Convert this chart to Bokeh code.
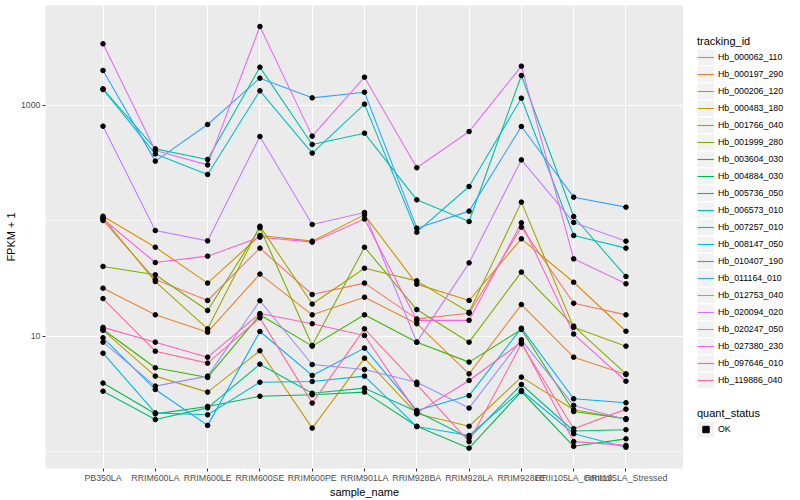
import math
from bokeh.plotting import figure
from bokeh.layouts import row
from bokeh.models import (Range1d, FactorRange, FixedTicker, PrintfTickFormatter,
                          Legend, LegendItem, ColumnDataSource)
from bokeh.embed import file_html
from bokeh.resources import INLINE

samples = ["PB350LA", "RRIM600LA", "RRIM600LE", "RRIM600SE", "RRIM600PE", "RRIM901LA",
           "RRIM928BA", "RRIM928LA", "RRIM928LE", "RRII105LA_Control", "RRII105LA_Stressed"]

tracking_ids = ["Hb_000062_110", "Hb_000197_290", "Hb_000206_120", "Hb_000483_180",
                "Hb_001766_040", "Hb_001999_280", "Hb_003604_030", "Hb_004884_030",
                "Hb_005736_050", "Hb_006573_010", "Hb_007257_010", "Hb_008147_050",
                "Hb_010407_190", "Hb_011164_010", "Hb_012753_040", "Hb_020094_020",
                "Hb_020247_050", "Hb_027380_230", "Hb_097646_010", "Hb_119886_040"]

hb_000062_110 = [101, 31.1, 20.5, 58.2, 23.1, 29.0, 14.2, 15.9, 88.4, 19.4, 15.4]
hb_000197_290 = [26.2, 15.4, 10.9, 34.7, 15.4, 21.9, 12.9, 4.75, 18.9, 6.62, 4.69]
hb_000206_120 = [110, 59.3, 29.0, 74.9, 66.9, 113, 28.4, 20.5, 70.1, 29.5, 11.1]
hb_000483_180 = [11.3, 4.54, 3.30, 7.52, 1.61, 6.49, 2.14, 1.67, 4.45, 2.32, 1.94]
hb_001766_040 = [106, 29.9, 11.65, 90.2, 19.1, 39.0, 30.3, 16.2, 145.6, 12.0, 8.25]
hb_001999_280 = [40.4, 34.2, 16.8, 87.3, 8.36, 59.3, 17.1, 8.93, 36.1, 12.3, 4.75]
hb_003604_030 = [11.5, 5.36, 4.42, 15.4, 8.25, 15.4, 8.93, 6.00, 11.5, 2.24, 1.94]
hb_004884_030 = [3.95, 2.14, 2.48, 3.04, 3.13, 3.30, 1.67, 1.08, 3.34, 1.12, 1.30]
hb_005736_050 = [3.36, 1.91, 2.41, 5.76, 3.23, 3.57, 2.24, 1.32, 3.84, 1.52, 1.56]
hb_006573_010 = [1394, 421, 341, 2147, 460, 576, 152.5, 99.0, 1818, 109.4, 33.1]
hb_007257_010 = [1375, 381, 253, 1340, 387, 1027, 80.0, 199, 1157, 74.9, 58.2]
hb_008147_050 = [7.17, 2.18, 2.10, 4.02, 4.08, 4.54, 1.66, 1.39, 3.41, 1.44, 1.10]
hb_010407_190 = [9.74, 3.48, 1.70, 11.05, 4.60, 7.93, 2.29, 3.08, 11.8, 2.89, 2.67]
hb_011164_010 = [2010, 330, 685, 1725, 1165, 1304, 86.7, 121.7, 658, 160.8, 131.8]
hb_012753_040 = [8.93, 3.72, 4.54, 20.4, 5.72, 5.18, 4.02, 2.40, 9.36, 2.53, 1.91]
hb_020094_020 = [662, 82.7, 67.3, 539, 93.3, 118.5, 8.93, 43.4, 338, 97.1, 66.9]
hb_020247_050 = [3420, 408, 306, 4830, 543, 1759, 289, 595, 2190, 47.0, 28.6]
hb_027380_230 = [104, 43.7, 49.6, 72.4, 65.6, 104, 13.8, 13.8, 96.4, 10.5, 4.10]
hb_097646_010 = [12.0, 8.93, 6.62, 15.8, 12.9, 10.2, 2.18, 4.16, 8.93, 1.23, 1.14]
hb_119886_040 = [21.3, 7.46, 5.88, 14.5, 2.65, 11.65, 3.84, 1.23, 8.64, 1.59, 2.35]

series = [hb_000062_110, hb_000197_290, hb_000206_120, hb_000483_180, hb_001766_040,
          hb_001999_280, hb_003604_030, hb_004884_030, hb_005736_050, hb_006573_010,
          hb_007257_010, hb_008147_050, hb_010407_190, hb_011164_010, hb_012753_040,
          hb_020094_020, hb_020247_050, hb_027380_230, hb_097646_010, hb_119886_040]

quant_status = ["OK"]
y_ticks = [10, 1000]
y_minor = [1, 100, 10000]


def hcl_hex(h, c=100.0, l=65.0):
    hr = math.radians(h)
    U = c * math.cos(hr)
    V = c * math.sin(hr)
    Xn, Yn, Zn = 95.047, 100.0, 108.883
    Y = Yn * ((l + 16) / 116) ** 3
    t = Xn + 15 * Yn + 3 * Zn
    un, vn = 4 * Xn / t, 9 * Yn / t
    u = U / (13 * l) + un
    v = V / (13 * l) + vn
    X = 9.0 * Y * u / (4 * v)
    Z = -X / 3 - 5 * Y + 3 * Y / v
    X, Y, Z = X / 100, Y / 100, Z / 100
    rgb = [3.240479 * X - 1.537150 * Y - 0.498535 * Z,
           -0.969256 * X + 1.875992 * Y + 0.041556 * Z,
           0.055648 * X - 0.204043 * Y + 1.057311 * Z]
    out = []
    for ch in rgb:
        ch = 1.055 * ch ** (1 / 2.4) - 0.055 if ch > 0.0031308 else 12.92 * ch
        ch = min(max(ch, 0.0), 1.0)
        out.append(int(round(ch * 255)))
    return "#%02X%02X%02X" % tuple(out)


n = len(tracking_ids)
colors = [hcl_hex(15 + 360.0 * i / n) for i in range(n)]

# ---------------- main panel ----------------
p = figure(x_range=FactorRange(*samples, range_padding=0.6, range_padding_units="absolute"),
           y_axis_type="log", y_range=Range1d(10 ** -0.1429, 10 ** 3.8658),
           width=683, height=500,
           min_border_left=45, min_border_right=0, min_border_top=5, min_border_bottom=32,
           output_backend="svg", toolbar_location=None)
p.background_fill_color = "#EBEBEB"
p.border_fill_color = "white"
p.outline_line_color = None

for vals, col in zip(series, colors):
    p.line(x=samples, y=vals, line_color=col, line_width=1.1)

xs, ys = [], []
for vals in series:
    xs.extend(samples)
    ys.extend(vals)
p.scatter(x="x", y="y", source=ColumnDataSource(dict(x=xs, y=ys)),
          size=4.6, fill_color="black", line_color="black")

for ax in (p.xaxis[0], p.yaxis[0]):
    ax.axis_line_color = None
    ax.major_tick_line_color = "#333333"
    ax.major_tick_out = 3
    ax.major_tick_in = 0
    ax.minor_tick_out = 0
    ax.minor_tick_in = 0
    ax.major_label_text_font = "Liberation Sans"
    ax.major_label_text_font_size = "8.8px"
    ax.major_label_text_color = "#4D4D4D"
    ax.axis_label_text_font = "Liberation Sans"
    ax.axis_label_text_font_size = "11px"
    ax.axis_label_text_font_style = "normal"
    ax.axis_label_text_color = "black"

p.xaxis.major_label_standoff = 1
p.xaxis.axis_label_standoff = 0
p.yaxis.major_label_standoff = 2
p.yaxis.axis_label_standoff = 1

p.xaxis.axis_label = "sample_name"
p.yaxis.axis_label = "FPKM + 1"
p.yaxis.ticker = FixedTicker(ticks=y_ticks, minor_ticks=y_minor)
p.yaxis.formatter = PrintfTickFormatter(format="%d")

p.xgrid.grid_line_color = "white"
p.xgrid.grid_line_width = 1.1
p.ygrid.grid_line_color = "white"
p.ygrid.grid_line_width = 1.1
p.ygrid.minor_grid_line_color = "white"
p.ygrid.minor_grid_line_width = 0.55

# ---------------- legend panel (same borders as the main panel) ----------------
lf = figure(width=112, height=500, x_range=Range1d(0, 1), y_range=Range1d(0, 1),
            min_border_left=0, min_border_right=0, min_border_top=5, min_border_bottom=32,
            x_axis_location=None, y_axis_location=None,
            output_backend="svg", toolbar_location=None)
lf.outline_line_color = None
lf.background_fill_color = "white"
lf.border_fill_color = "white"
lf.grid.grid_line_color = None

# legend-only renderers: one point each, placed outside the visible range
bg = lf.line(x=[-5], y=[-5], line_width=16, line_color="#F2F2F2", line_cap="butt")
items = []
for tid, col in zip(tracking_ids, colors):
    r = lf.line(x=[-5], y=[-5], line_color=col, line_width=1.1)
    items.append(LegendItem(label=tid, renderers=[bg, r]))
dot = lf.scatter(x=[-5], y=[-5], size=4.2, fill_color="black", line_color="black",
                 marker="square")


def style_legend(lg):
    lg.padding = 0
    lg.margin = 0
    lg.spacing = 1
    lg.glyph_width = 17
    lg.glyph_height = 16
    lg.label_height = 16
    lg.label_standoff = 4
    lg.label_text_font = "Liberation Sans"
    lg.label_text_font_size = "8.8px"
    lg.label_text_color = "black"
    lg.title_text_font = "Liberation Sans"
    lg.title_text_font_size = "11px"
    lg.title_text_font_style = "normal"
    lg.title_text_color = "black"
    lg.title_standoff = 2
    lg.background_fill_alpha = 0
    lg.border_line_alpha = 0


legend1 = Legend(items=items, location=(14, 80), title="tracking_id")
style_legend(legend1)
lf.add_layout(legend1)

legend2 = Legend(items=[LegendItem(label=quant_status[0], renderers=[bg, dot])],
                 location=(14, 31), title="quant_status")
style_legend(legend2)
lf.add_layout(legend2)

layout = row(p, lf, spacing=0)
open("out.html", "w").write(file_html(layout, INLINE))
